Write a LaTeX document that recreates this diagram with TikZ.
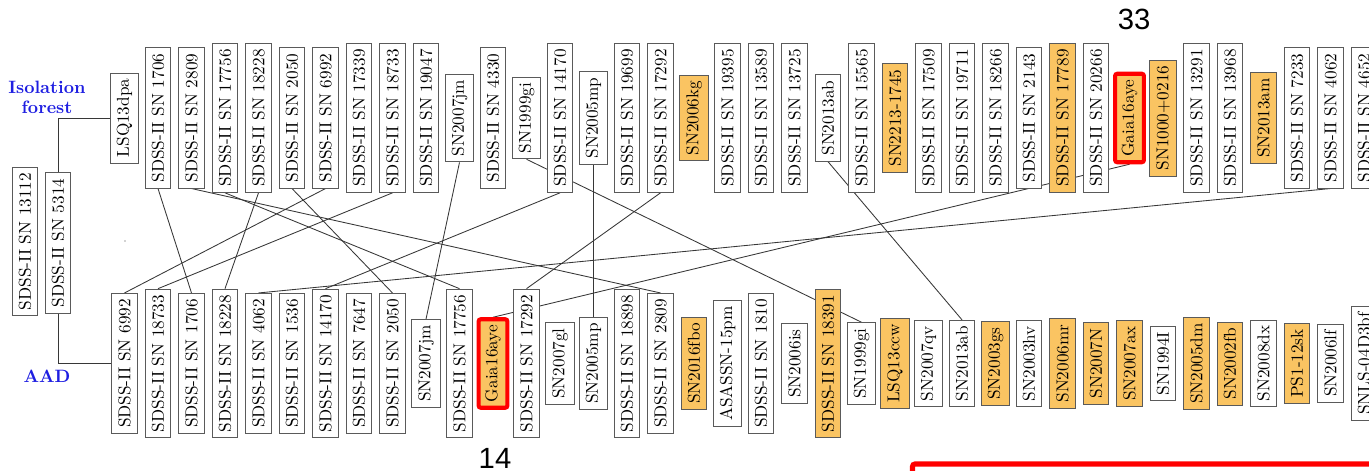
\documentclass[tikz,border=0pt]{standalone}
\usepackage{fontspec}
\newfontfamily\labelsans{Liberation Sans}
\usetikzlibrary{backgrounds}
\definecolor{snorange}{RGB}{250,196,98}
\definecolor{boxline}{RGB}{90,90,90}
\definecolor{linkline}{RGB}{55,55,55}
\definecolor{rankblue}{RGB}{30,30,225}
\tikzset{
  sn/.style={draw=boxline, line width=0.55pt, fill=white, rotate=90,
    inner xsep=3.3pt, inner ysep=3.8pt, font=\fontsize{10}{12}\selectfont},
  hot/.style={sn, fill=snorange},
  flag/.style={hot, draw=red, line width=2.4pt, rounded corners=1.2pt},
  link/.style={draw=linkline, line width=0.5pt},
  rank/.style={text=rankblue, font=\fontsize{10.4}{11.6}\selectfont\bfseries, align=center},
  tag/.style={font=\labelsans\fontsize{17}{20}\selectfont},
}
\begin{document}
\begin{tikzpicture}[x=0.58144pt, y=-0.58144pt]
\useasboundingbox (0,0) rectangle (1369,471);
\clip (0,0) rectangle (1369,471);

% method labels
\node[rank] (iflabel) at (47,97) {Isolation\\forest};
\node[rank] (aadlabel) at (47,376) {AAD};

% root pair
\node[sn] (s13112) at (25,241.5) {SDSS-II SN 13112};
\node[sn] (s5314) at (58,243) {SDSS-II SN 5314};
\fill[gray!70] (125,241) circle (0.9);

% isolation forest ranking
\foreach \lab/\sty [count=\i from 0] in {
  LSQ13dpa/sn, SDSS-II SN 1706/sn, SDSS-II SN 2809/sn, SDSS-II SN 17756/sn,
  SDSS-II SN 18228/sn, SDSS-II SN 2050/sn, SDSS-II SN 6992/sn, SDSS-II SN 17339/sn,
  SDSS-II SN 18733/sn, SDSS-II SN 19047/sn, SN2007jm/sn, SDSS-II SN 4330/sn,
  SN1999gi/sn, SDSS-II SN 14170/sn, SN2005mp/sn, SDSS-II SN 19699/sn,
  SDSS-II SN 17292/sn, SN2006kg/hot, SDSS-II SN 19395/sn, SDSS-II SN 13589/sn,
  SDSS-II SN 13725/sn, SN2013ab/sn, SDSS-II SN 15565/sn, SN2213-1745/hot,
  SDSS-II SN 17509/sn, SDSS-II SN 19711/sn, SDSS-II SN 18266/sn, SDSS-II SN 2143/sn,
  SDSS-II SN 17789/hot, SDSS-II SN 20266/sn, Gaia16aye/flag, SN1000+0216/hot,
  SDSS-II SN 13291/sn, SDSS-II SN 13968/sn, SN2013am/hot, SDSS-II SN 7233/sn,
  SDSS-II SN 4062/sn, SDSS-II SN 4652/sn}
  \node[\sty] (t\i) at ({124.5+33.5*\i},118) {\lab};

% AAD ranking
\foreach \lab/\sty [count=\i from 0] in {
  SDSS-II SN 6992/sn, SDSS-II SN 18733/sn, SDSS-II SN 1706/sn, SDSS-II SN 18228/sn,
  SDSS-II SN 4062/sn, SDSS-II SN 1536/sn, SDSS-II SN 14170/sn, SDSS-II SN 7647/sn,
  SDSS-II SN 2050/sn, SN2007jm/sn, SDSS-II SN 17756/sn, Gaia16aye/flag,
  SDSS-II SN 17292/sn, SN2007gl/sn, SN2005mp/sn, SDSS-II SN 18898/sn,
  SDSS-II SN 2809/sn, SN2016fbo/hot, ASASSN-15pm/sn, SDSS-II SN 1810/sn,
  SN2006is/sn, SDSS-II SN 18391/hot, SN1999gi/sn, LSQ13ccw/hot,
  SN2007qv/sn, SN2013ab/sn, SN2003gs/hot, SN2003hv/sn,
  SN2006mr/hot, SN2007N/hot, SN2007ax/hot, SN1994I/sn,
  SN2005dm/hot, SN2002fb/hot, SN2008dx/sn, PS1-12sk/hot,
  SN2006lf/sn, SNLS-04D3bf/sn}
  \node[\sty] (b\i) at ({124.5+33.5*\i},363.5) {\lab};

% connectors between the two rankings, behind the boxes
\begin{scope}[on background layer]
  \draw[link] (s5314.east) |- (t0.north);
  \draw[link] (s5314.west) |- (b0.north);
  \foreach \a/\b in {1/2, 2/16, 3/10, 4/3, 5/8, 6/0, 8/1, 10/9, 12/22,
                     13/6, 14/14, 16/12, 21/25, 30/11, 36/4}
    \draw[link] (t\a.west) -- (b\b.east);
\end{scope}

% rank numbers of the highlighted object
\node[tag] (rankif) at (1134,19) {33};
\node[tag] (rankaad) at (495,458) {14};

% highlight frame
\draw[red, line width=3pt, rounded corners=1.5pt] (912.5,464) rectangle (1420,520);
\end{tikzpicture}
\end{document}
